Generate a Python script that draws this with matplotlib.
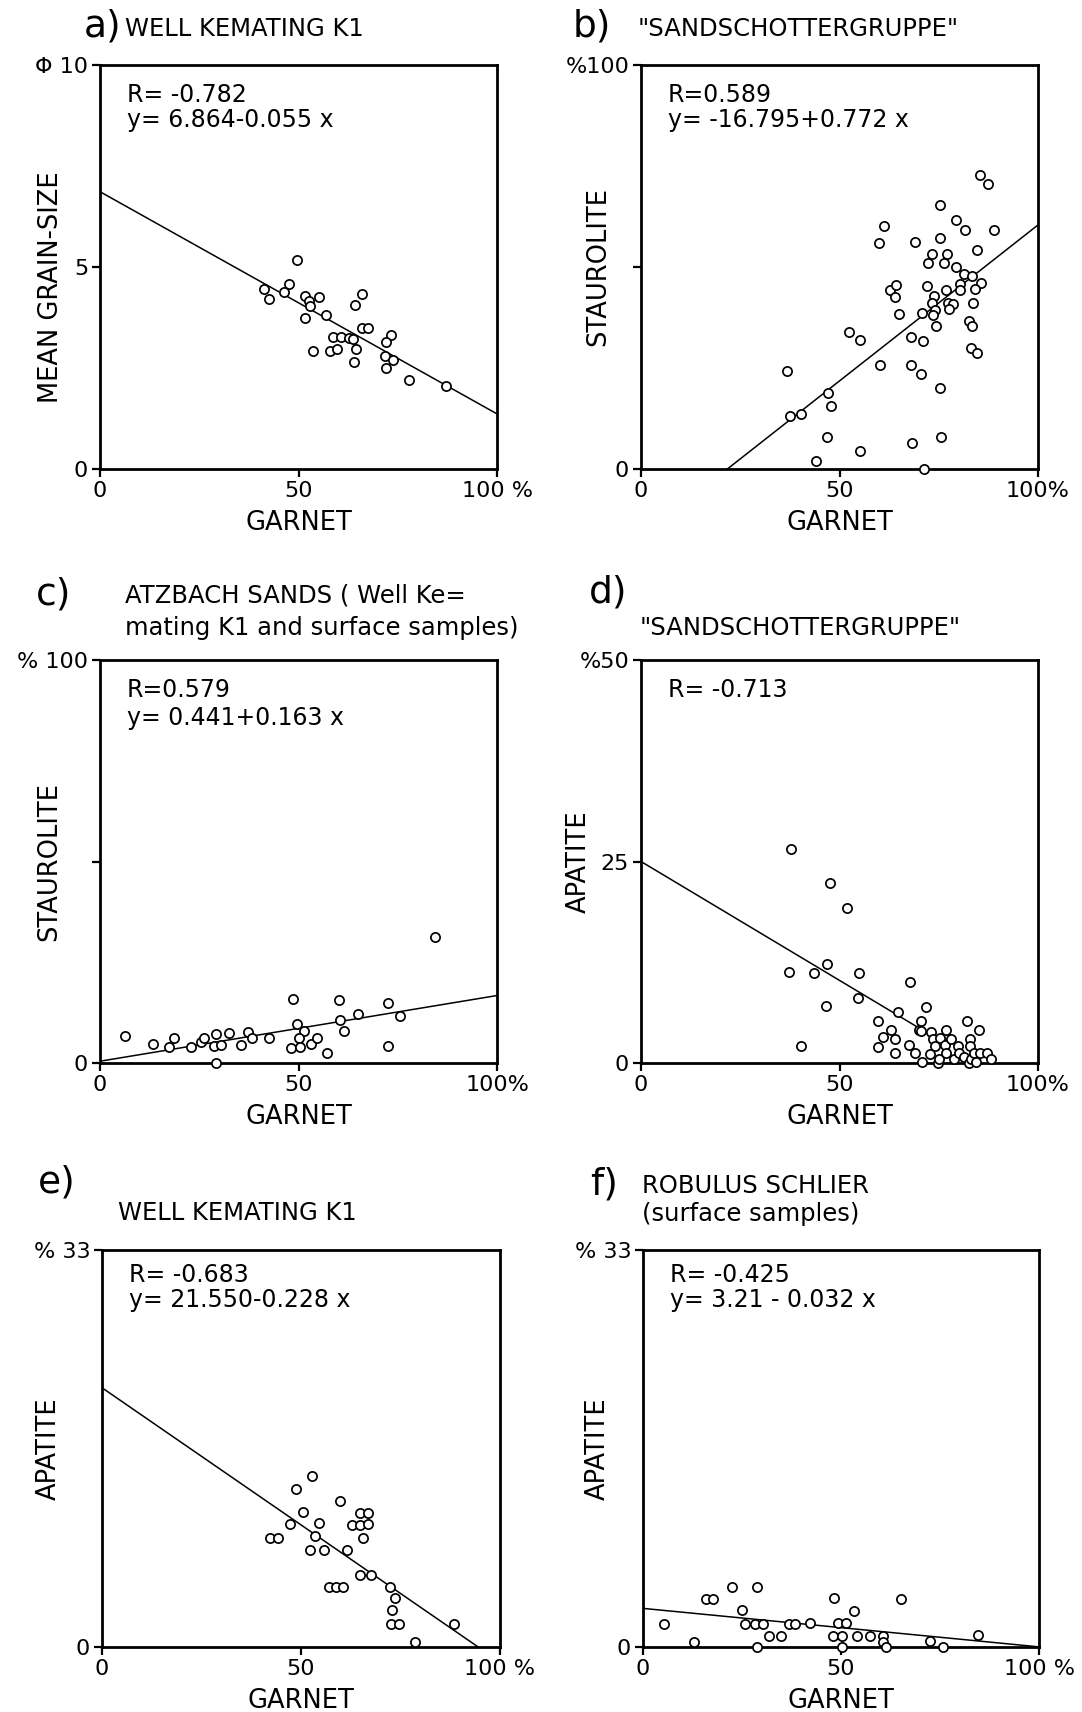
import matplotlib
matplotlib.use("Agg")
import matplotlib.pyplot as plt
import numpy as np

plt.rcParams['font.family'] = ['DejaVu Sans']

# ---------------- data ----------------
# a) Well Kemating K1: garnet vs mean grain-size (phi)
a_x = [49.7, 47.7, 41.4, 42.6, 46.4, 51.7, 52.6, 52.8, 55.2, 51.7, 57.0, 65.9, 64.2, 65.9, 67.4,
       58.7, 60.7, 62.8, 63.8, 53.7, 57.9, 59.8, 64.6, 64.1, 73.2, 72.1, 71.8, 73.8, 72.1, 77.8, 87.2]
a_y = [5.17, 4.57, 4.46, 4.20, 4.38, 4.28, 4.15, 4.03, 4.26, 3.75, 3.80, 4.32, 4.06, 3.48, 3.48,
       3.27, 3.27, 3.25, 3.23, 2.92, 2.92, 2.97, 2.97, 2.66, 3.32, 3.14, 2.79, 2.71, 2.50, 2.21, 2.05]

# b) Sandschottergruppe: garnet vs staurolite
b_x = [85.4, 87.4, 75.2, 79.4, 81.7, 88.8, 61.2, 59.9, 69.0, 75.2, 84.6, 73.2, 77.2, 72.4, 76.2,
       79.4, 81.4, 83.4, 85.7, 80.3, 84.2, 80.4, 76.8, 72.0, 62.8, 64.3, 64.1, 73.9, 73.2, 77.3,
       78.7, 83.6, 74.1, 77.5, 70.8, 73.5, 65.1, 74.2, 82.6, 83.4, 52.3, 55.2, 68.0, 71.0, 83.1,
       84.6, 60.3, 68.0, 70.5, 36.9, 47.0, 47.9, 37.5, 40.3, 75.2, 46.9, 55.2, 44.0, 68.2, 75.5, 71.4]
b_y = [72.7, 70.6, 65.3, 61.7, 59.1, 59.2, 60.2, 55.9, 56.3, 57.1, 54.3, 53.2, 53.2, 51.0, 51.0,
       49.9, 48.3, 47.7, 46.1, 45.8, 44.6, 44.4, 44.4, 45.2, 44.2, 45.5, 42.6, 42.7, 41.1, 41.1,
       40.9, 41.1, 39.3, 39.5, 38.5, 38.0, 38.3, 35.4, 36.7, 35.5, 34.0, 31.9, 32.6, 31.6, 29.9,
       28.7, 25.7, 25.8, 23.6, 24.3, 18.8, 15.6, 13.2, 13.6, 20.1, 7.9, 4.5, 1.9, 6.4, 7.9, 0.0]

# c) Atzbach sands: garnet vs staurolite
c_x = [6.2, 13.3, 17.3, 18.7, 22.9, 25.5, 26.3, 28.6, 29.2, 30.6, 32.4, 29.2, 35.5, 37.4, 38.4,
       42.6, 48.5, 49.7, 51.4, 50.2, 48.2, 50.3, 53.1, 54.6, 57.2, 60.3, 60.4, 61.4, 65.1, 72.6,
       72.6, 75.6, 84.5]
c_y = [6.75, 4.7, 4.0, 6.1, 4.0, 5.25, 6.3, 4.25, 7.2, 4.5, 7.5, 0.0, 4.4, 7.8, 6.25,
       6.25, 15.9, 9.75, 8.0, 6.25, 3.8, 4.0, 4.7, 6.3, 2.5, 15.75, 10.6, 7.9, 12.2, 15.0,
       4.1, 11.75, 31.2]

# d) Sandschottergruppe: garnet vs apatite
d_x = [37.8, 47.6, 51.9, 37.2, 43.5, 46.8, 55.0, 67.8, 46.5, 54.7, 40.3, 64.7, 71.9, 59.7, 62.9,
       60.9, 63.9, 59.7, 64.0, 67.5, 68.9, 70.6, 69.9, 70.6, 70.8, 73.1, 73.5, 74.0, 72.9, 74.8,
       75.0, 75.2, 76.9, 76.6, 76.9, 78.1, 78.9, 79.9, 80.0, 81.3, 82.2, 82.8, 82.8, 82.7, 83.2,
       84.0, 84.5, 85.1, 85.3, 87.1, 88.1]
d_y = [26.5, 22.3, 19.25, 11.3, 11.2, 12.3, 11.2, 10.0, 7.1, 8.1, 2.1, 6.3, 7.0, 5.2, 4.1,
       3.2, 3.0, 2.0, 1.2, 2.2, 1.3, 5.2, 4.1, 4.0, 0.1, 3.8, 3.0, 2.1, 1.1, 0.0,
       0.5, 3.1, 4.1, 2.2, 1.25, 3.0, 0.5, 2.1, 1.25, 0.75, 5.2, 3.0, 2.1, 0.0, 0.5,
       1.25, 0.1, 4.1, 1.25, 1.25, 0.5]

# e) Well Kemating K1: garnet vs apatite
e_x = [52.8, 48.7, 59.7, 50.5, 64.8, 66.8, 47.3, 54.6, 62.9, 64.8, 66.8, 42.1, 44.1, 53.4, 65.6,
       52.3, 55.8, 61.6, 64.8, 67.6, 57.1, 58.8, 60.5, 72.3, 73.7, 72.9, 72.6, 74.7, 78.7, 88.4]
e_y = [14.2, 13.1, 12.1, 11.2, 11.1, 11.1, 10.2, 10.3, 10.1, 10.1, 10.2, 9.1, 9.1, 9.2, 9.1,
       8.1, 8.1, 8.1, 6.0, 6.0, 5.0, 5.0, 5.0, 5.0, 4.1, 3.1, 1.9, 1.9, 0.4, 1.9]

# f) Robulus Schlier: garnet vs apatite
f_x = [5.2, 12.9, 16.0, 17.7, 22.6, 28.7, 25.0, 25.7, 28.4, 30.2, 28.8, 31.9, 34.8, 36.8, 38.3,
       42.2, 48.2, 48.0, 49.2, 51.2, 50.2, 50.3, 53.2, 54.1, 57.4, 60.6, 60.7, 61.3, 65.2, 72.6,
       75.7, 84.7]
f_y = [1.9, 0.45, 4.0, 4.0, 5.0, 5.0, 3.1, 1.9, 1.9, 1.9, 0.0, 0.9, 0.9, 1.9, 1.9,
       2.0, 4.1, 0.9, 2.0, 2.0, 0.9, 0.0, 3.0, 0.9, 0.9, 0.9, 0.4, 0.0, 4.0, 0.5,
       0.0, 1.0]

# regression coefficients (intercept, slope) and drawn x-range
reg_intercept = [6.864, -16.795, 0.441, 25.0, 21.550, 3.21]
reg_slope = [-0.055, 0.772, 0.163, -0.295, -0.228, -0.032]
reg_xmax = [100, 100, 100, 70, 100, 100]

letters = ['a)', 'b)', 'c)', 'd)', 'e)', 'f)']
titles = [['WELL KEMATING K1'], ['"SANDSCHOTTERGRUPPE"'],
          ['ATZBACH SANDS ( Well Ke=', 'mating K1 and surface samples)'],
          ['"SANDSCHOTTERGRUPPE"'], ['WELL KEMATING K1'],
          ['ROBULUS SCHLIER', '(surface samples)']]
stats = [['R= -0.782', 'y= 6.864-0.055 x'], ['R=0.589', 'y= -16.795+0.772 x'],
         ['R=0.579', 'y= 0.441+0.163 x'], ['R= -0.713'],
         ['R= -0.683', 'y= 21.550-0.228 x'], ['R= -0.425', 'y= 3.21 - 0.032 x']]
ylabels = ['MEAN GRAIN-SIZE', 'STAUROLITE', 'STAUROLITE', 'APATITE', 'APATITE', 'APATITE']
ymax = [10, 100, 100, 50, 33, 33]
yticks = [[0, 5, 10], [0, 50, 100], [0, 50, 100], [0, 25, 50], [0, 33], [0, 33]]
yticklabels = [['0', '5', 'Φ 10'], ['0', '', '%100'], ['0', '', '% 100'],
               ['0', '25', '%50'], ['0', '% 33'], ['0', '% 33']]
xticks = [0, 50, 100]
xticklabels = [['0', '50', '100 %'], ['0', '50', '100%'], ['0', '50', '100%'],
               ['0', '50', '100%'], ['0', '50', '100 %'], ['0', '50', '100 %']]
xlabel = 'GARNET'

xs = [a_x, b_x, c_x, d_x, e_x, f_x]
ys = [a_y, b_y, c_y, d_y, e_y, f_y]

# ---------------- layout ----------------
W, H = 1082, 1712
fig = plt.figure(figsize=(W / 100, H / 100), dpi=100)
fig.patch.set_facecolor('white')

# axes boxes in pixels: left, top, right, bottom
boxes = [(100, 65, 497, 469), (641, 65, 1038, 469),
         (100, 660, 497, 1063), (641, 660, 1038, 1063),
         (102, 1250, 500, 1647), (643, 1250, 1039, 1647)]
ylabel_cx = [51, 598, 49, 579, 49, 598]          # pixel x centre of y-label
ylabel_cy = [0.45, 0.5, 0.5, 0.5, 0.5, 0.5]
letter_pos = [(84, 27), (573, 27), (36, 595), (589, 593), (38, 1183), (590, 1185)]
title_x = [125, 638, 125, 640, 118, 642]
title_y = [[29], [29], [596, 628], [628], [1213], [1186, 1214]]
stat_dy = [[30, 55], [30, 55], [30, 58], [30], [25, 50], [25, 50]]


def fx(px):
    return px / W


def fy(py):
    return 1 - py / H


for i in range(6):
    l, t, r, b = boxes[i]
    w, h = r - l, b - t
    ax = fig.add_axes([fx(l), fy(b), w / W, h / H])
    ax.set_xlim(0, 100)
    ax.set_ylim(0, ymax[i])
    for s in ax.spines.values():
        s.set_linewidth(2.0)
        s.set_color('black')
    ax.tick_params(direction='out', length=6, width=1.6, labelsize=16, pad=2.5, colors='black')
    ax.set_xticks(xticks)
    ax.set_xticklabels(xticklabels[i])
    ax.set_yticks(yticks[i])
    ax.set_yticklabels(yticklabels[i])
    ax.set_xlabel(xlabel, fontsize=18.5, va='center')
    ax.xaxis.set_label_coords(0.5, -54 / h)
    ax.set_ylabel(ylabels[i], fontsize=18.5, va='center')
    ax.yaxis.set_label_coords((ylabel_cx[i] - l) / w, ylabel_cy[i])

    # regression line, clipped at y >= 0
    x0 = 0.0
    x1 = reg_xmax[i]
    b0, b1 = reg_intercept[i], reg_slope[i]
    if b0 < 0:
        x0 = -b0 / b1
    if b0 + b1 * x1 < 0:
        x1 = -b0 / b1
    lx = np.array([x0, x1])
    ax.plot(lx, b0 + b1 * lx, color='black', lw=1.1, zorder=2)

    ax.scatter(xs[i], ys[i], s=44, facecolors='white', edgecolors='black',
               linewidths=1.25, zorder=3, clip_on=False)

    for k, line in enumerate(stats[i]):
        ax.text(27 / w, 1 - stat_dy[i][k] / h, line, transform=ax.transAxes,
                fontsize=17, va='center', ha='left')

    lxp, lyp = letter_pos[i]
    fig.text(fx(lxp), fy(lyp), letters[i], fontsize=27, ha='left', va='center')
    for k, line in enumerate(titles[i]):
        fig.text(fx(title_x[i]), fy(title_y[i][k]), line, fontsize=17.5,
                 ha='left', va='center')

fig.savefig('out.png', dpi=100, facecolor='white')
